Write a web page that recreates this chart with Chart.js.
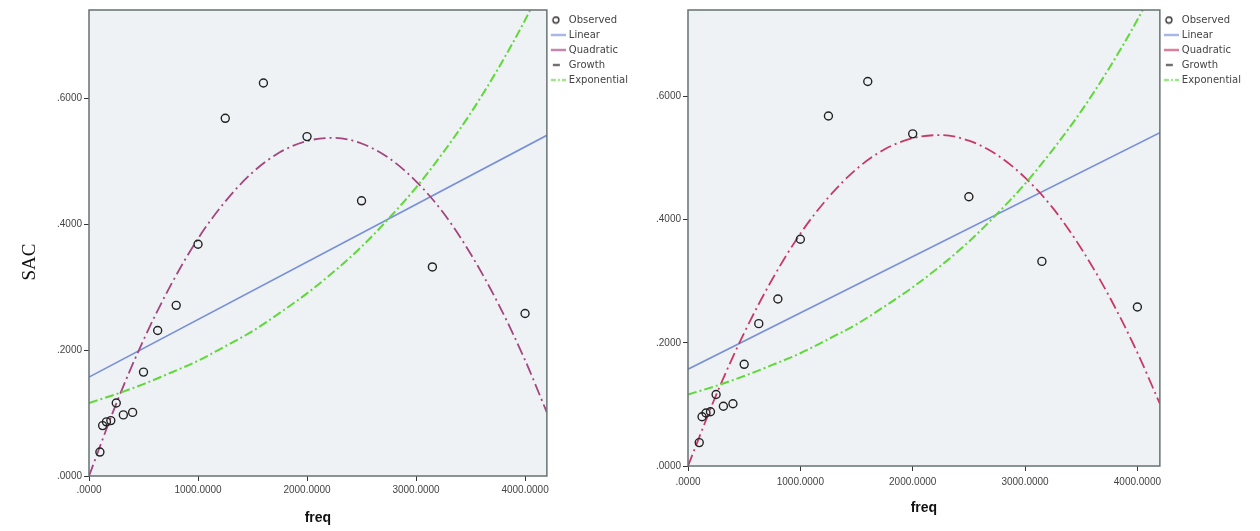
<!DOCTYPE html>
<html>
<head>
<meta charset="utf-8">
<title>SAC - freq</title>
<script src="https://cdn.jsdelivr.net/npm/chart.js"></script>
<style>
    body { margin: 0; background: #fff; }
    .wrap { position: absolute; top: 0; height: 531px; }
</style>
</head>
<body>
<div class="wrap" style="left:0;width:645px"><canvas id="leftChart"></canvas></div>
<div class="wrap" style="left:645px;width:615px"><canvas id="rightChart"></canvas></div>

<script>
// observed points (1/3 octave bands)
const freq = [100, 125, 160, 200, 250, 315, 400, 500, 630, 800, 1000, 1250, 1600, 2000, 2500, 3150, 4000];
const sac = [0.038, 0.080, 0.086, 0.088, 0.116, 0.097, 0.101, 0.165, 0.231, 0.271, 0.368, 0.568, 0.624, 0.539, 0.437, 0.332, 0.258];

// fitted curves
const linFreq = [0, 4200];
const linear = [0.157, 0.541];
const curveFreq = [0, 250, 500, 750, 1000, 1250, 1500, 1750, 2000, 2250, 2500, 2750, 3000, 3250, 3500, 3750, 4000, 4200];
const quadratic = [0.000, 0.115, 0.216, 0.303, 0.377, 0.436, 0.482, 0.514, 0.532, 0.537, 0.528, 0.505, 0.468, 0.418, 0.353, 0.275, 0.184, 0.101];
const exponential = [0.116, 0.130, 0.146, 0.164, 0.183, 0.206, 0.230, 0.259, 0.290, 0.325, 0.364, 0.409, 0.458, 0.514, 0.576, 0.646, 0.724, 0.794];
const growth = [];

const xTicks = [0, 1000, 2000, 3000, 4000];
const yTicks = [0, 0.2, 0.4, 0.6];

function pts(xs, ys) {
    return ys.map((y, i) => ({ x: xs[i], y: y }));
}

// spss style number: .6000 / 1000.0000
function fmt(v) {
    return Number(v).toFixed(4).replace(/^0\./, '.');
}

// small legend icons
function icon(kind, color, dash) {
    const c = document.createElement('canvas');
    c.width = 16; c.height = 9;
    const g = c.getContext('2d');
    g.strokeStyle = color;
    if (kind === 'circle') {
        g.lineWidth = 1.3;
        g.beginPath(); g.arc(6, 4.5, 3, 0, Math.PI * 2); g.stroke();
    } else {
        g.lineWidth = 1.6;
        g.setLineDash(dash || []);
        g.beginPath();
        g.moveTo(kind === 'short' ? 3 : 1, 4.5); g.lineTo(kind === 'short' ? 10 : 16, 4.5);
        g.stroke();
    }
    return c;
}

const plotBox = {
    id: 'plotBox',
    beforeDraw(chart) {
        const { ctx, chartArea: a } = chart;
        ctx.save();
        ctx.fillStyle = '#eff2f4';
        ctx.fillRect(a.left, a.top, a.width, a.height);
        ctx.restore();
    },
    afterDraw(chart) {
        const { ctx, chartArea: a } = chart;
        ctx.save();
        ctx.strokeStyle = '#667272';
        ctx.lineWidth = 1.5;
        ctx.strokeRect(a.left, a.top, a.width, a.height);
        ctx.restore();
    }
};

function makeChart(id, cfg) {
    const icons = [
        icon('circle', '#222'),
        icon('line', '#7890da'),
        icon('line', cfg.quadColor),
        icon('short', '#222'),
        icon('line', '#5fd83a', [5, 2, 2, 2])
    ];
    const tickFont = { family: 'Liberation Sans', size: 10 };

    return new Chart(document.getElementById(id), {
        type: 'line',
        data: {
            datasets: [
                {
                    label: 'Observed', data: pts(freq, sac), showLine: false,
                    pointStyle: 'circle', pointRadius: 4, pointBorderWidth: 1.4,
                    borderColor: '#222', backgroundColor: 'rgba(0,0,0,0)', order: 0
                },
                {
                    label: 'Linear', data: pts(linFreq, linear),
                    borderColor: '#7890da', borderWidth: 1.6, pointRadius: 0, order: 3
                },
                {
                    label: 'Quadratic', data: pts(curveFreq, quadratic),
                    borderColor: cfg.quadColor, borderWidth: 1.8, borderDash: [12, 4, 2, 4],
                    pointRadius: 0, cubicInterpolationMode: 'monotone', order: 2
                },
                {
                    label: 'Growth', data: pts(curveFreq, growth),
                    borderColor: '#222', borderWidth: 1.5, pointRadius: 0, order: 4
                },
                {
                    label: 'Exponential', data: pts(curveFreq, exponential),
                    borderColor: '#5fd83a', borderWidth: 2, borderDash: [9, 3, 2, 3],
                    pointRadius: 0, cubicInterpolationMode: 'monotone', order: 1
                }
            ]
        },
        options: {
            responsive: true,
            maintainAspectRatio: false,
            animation: false,
            layout: { padding: { top: 10, right: cfg.padRight, left: 0, bottom: 0 } },
            scales: {
                x: {
                    type: 'linear', min: 0, max: 4200,
                    afterBuildTicks: s => { s.ticks = xTicks.map(v => ({ value: v })); },
                    afterFit: s => { s.height = cfg.xHeight; },
                    grid: { drawOnChartArea: false, drawTicks: true, tickLength: 5, color: '#333' },
                    border: { display: false },
                    ticks: { callback: v => fmt(v), font: tickFont, color: '#444', maxRotation: 0, padding: cfg.xTickPad },
                    title: {
                        display: true, text: 'freq', color: '#111',
                        font: { family: 'Liberation Sans', size: 14, weight: 'bold' },
                        padding: { top: 0, bottom: cfg.xTitlePad }
                    }
                },
                y: {
                    min: 0, max: 0.74,
                    afterBuildTicks: s => { s.ticks = yTicks.map(v => ({ value: v })); },
                    afterFit: s => { s.width = cfg.yWidth; },
                    grid: { drawOnChartArea: false, drawTicks: true, tickLength: 5, color: '#333' },
                    border: { display: false },
                    ticks: { callback: v => fmt(v), font: tickFont, color: '#444', padding: 2 },
                    title: {
                        // trailing spaces push the label a little below the middle, as in the original
                        display: cfg.yTitle, text: 'SAC        ', color: '#111',
                        font: { family: 'Liberation Serif', size: 19 },
                        padding: { top: 19, bottom: 0 }
                    }
                }
            },
            plugins: {
                tooltip: { enabled: false },
                legend: {
                    position: 'right', align: 'start',
                    labels: {
                        usePointStyle: true, pointStyleWidth: 12, boxHeight: 9,
                        padding: 5, color: '#444',
                        font: { family: 'DejaVu Sans', size: 10 },
                        generateLabels: chart => chart.data.datasets.map((ds, i) => ({
                            text: ds.label, pointStyle: icons[i], datasetIndex: i,
                            fontColor: '#444', lineWidth: 0, hidden: false
                        }))
                    }
                }
            }
        },
        plugins: [plotBox]
    });
}

makeChart('leftChart', {
    quadColor: '#a3457e', yTitle: true, yWidth: 89, padRight: 7,
    xHeight: 55, xTickPad: 3, xTitlePad: 4
});
makeChart('rightChart', {
    quadColor: '#c73a66', yTitle: false, yWidth: 43, padRight: 9,
    xHeight: 65, xTickPad: 5, xTitlePad: 14
});
</script>
</body>
</html>
